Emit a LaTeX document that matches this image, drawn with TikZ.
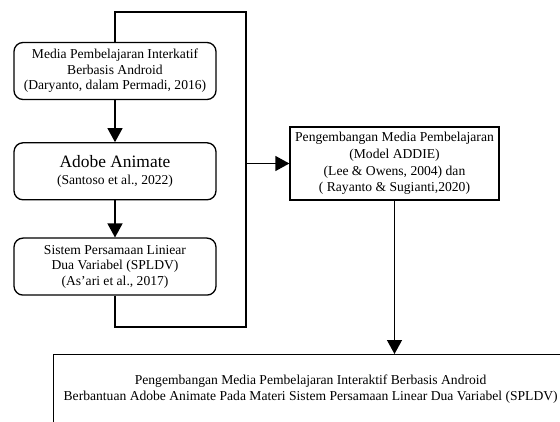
\documentclass[tikz,border=0pt]{standalone}
\usepackage{fontspec}
\setmainfont{Liberation Serif}
\usetikzlibrary{
    arrows.meta,
    positioning
}

\tikzset{
    teori/.style={draw, line width=1.3pt, rounded corners=9pt,
        minimum width=202pt, minimum height=57pt, align=center,
        inner sep=2pt, font=\fontsize{13.6}{15.5}\selectfont},
    model/.style={draw, line width=1.3pt, minimum width=209pt,
        minimum height=73pt, align=center, inner sep=2pt,
        font=\fontsize{13.6}{16.5}\selectfont},
    hasilbox/.style={draw, line width=1.3pt, minimum width=514pt,
        minimum height=90pt, align=center, inner sep=2pt,
        font=\fontsize{13.6}{16}\selectfont},
    garis/.style={line width=1.3pt},
    panah/.style={garis, -{Triangle[width=15pt,length=14pt]}}
}

\begin{document}
\begin{tikzpicture}[x=1pt, y=-1pt]
    \clip (0,0) rectangle (560,422);

    % kolom kiri
    \node[teori] (media) at (115,71)
        {Media Pembelajaran Interkatif\\Berbasis Android\\(Daryanto, dalam Permadi, 2016)};
    \node[teori, below=42pt of media] (adobe)
        {{\fontsize{17.4}{19}\selectfont Adobe Animate}\\[1pt](Santoso et al., 2022)};
    \node[teori, below=37pt of adobe] (spldv)
        {Sistem Persamaan Liniear\\Dua Variabel (SPLDV)\\(As’ari et al., 2017)};

    % kotak kanan dan bawah
    \node[model] (addie) at (394.5,163.5)
        {Pengembangan Media Pembelajaran\\(Model ADDIE)\\(Lee \& Owens, 2004) dan\\( Rayanto \& Sugianti,2020)};
    \node[hasilbox, anchor=north west] (hasil) at (53,354)
        {Pengembangan Media Pembelajaran Interaktif Berbasis Android\\Berbantuan Adobe Animate Pada Materi Sistem Persamaan Linear Dua Variabel (SPLDV)\\[8pt]};

    % bingkai penghubung
    \coordinate (bawah) at (246,327);
    \coordinate (atas)  at (246,12);
    \coordinate (cabang) at (246,163.5);

    \draw[panah] (media) -- (adobe);
    \draw[panah] (adobe) -- (spldv);
    \draw[garis] (spldv.south) -- (spldv.south |- bawah) -- (bawah)
        -- (atas) -- (media.north |- atas) -- (media.north);
    \draw[panah] (cabang) -- (addie.west);
    \draw[panah] (addie.south) -- (addie.south |- hasil.north);
\end{tikzpicture}
\end{document}
